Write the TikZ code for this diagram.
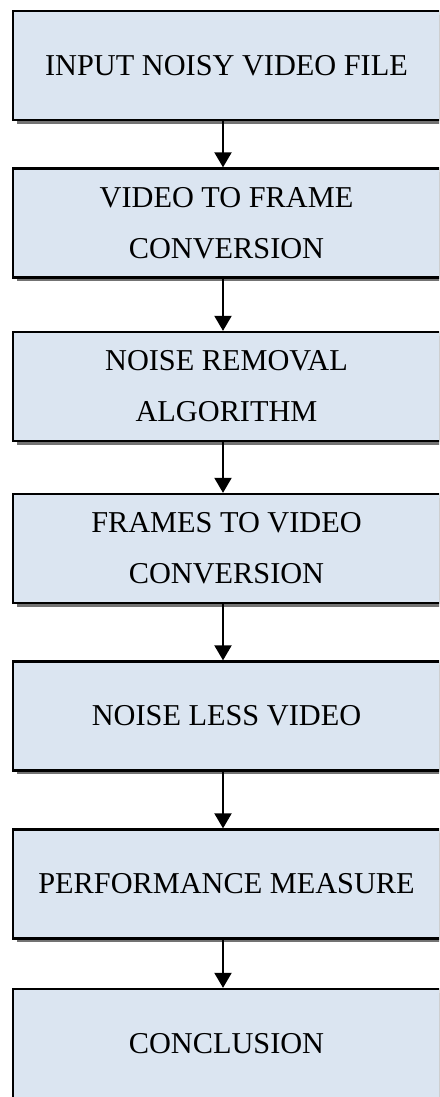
\documentclass[tikz,border=0pt]{standalone}
\usepackage{fontspec}
\setmainfont{Liberation Serif}
\usetikzlibrary{arrows.meta,shadows}
\definecolor{boxfill}{RGB}{219,229,241}
\definecolor{shadowgray}{RGB}{115,115,115}
\begin{document}
\begin{tikzpicture}[x=1pt,y=-1pt,
  stepbox/.style={draw=black, line width=2.3pt, fill=boxfill,
    minimum width=427pt, minimum height=109pt, inner sep=0pt,
    align=center, font=\fontsize{30.3}{51}\selectfont,
    drop shadow={shadow xshift=4pt, shadow yshift=-3.8pt, fill=shadowgray, opacity=1}},
  flow/.style={line width=2pt, -{Triangle[width=17pt,length=15pt]}}]
\useasboundingbox (0,0) rectangle (439,1097);
\clip (0,0) rectangle (439,1097);
\fill[white] (0,0) rectangle (439,1097);
\node[stepbox] (b1) at (226.5,65.5) {INPUT NOISY VIDEO FILE};
\node[stepbox] (b2) at (226.5,223) {VIDEO TO FRAME\\CONVERSION};
\node[stepbox] (b3) at (226.5,386.5) {NOISE REMOVAL\\ALGORITHM};
\node[stepbox] (b4) at (226.5,548.5) {FRAMES TO VIDEO\\CONVERSION};
\node[stepbox] (b5) at (226.5,716) {NOISE LESS VIDEO};
\node[stepbox] (b6) at (226.5,884) {PERFORMANCE MEASURE};
\node[stepbox] (b7) at (226.5,1043.5) {CONCLUSION};
\foreach \a/\b in {b1/b2,b2/b3,b3/b4,b4/b5,b5/b6,b6/b7}
  \draw[flow] ([xshift=-3.5pt]\a.south) -- ([xshift=-3.5pt]\b.north);
\end{tikzpicture}
\end{document}
